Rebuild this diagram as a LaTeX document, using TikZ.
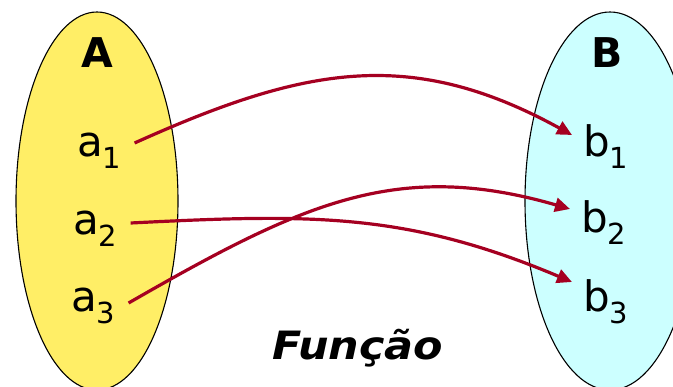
\documentclass[tikz,border=0pt]{standalone}
\usepackage{fontspec}
\setmainfont{DejaVu Sans}
\usetikzlibrary{arrows.meta}

\definecolor{setyellow}{RGB}{255,238,102}
\definecolor{setcyan}{RGB}{204,255,255}
\definecolor{maparrow}{RGB}{165,0,33}

\newcommand{\elem}[2]{#1\raisebox{-12pt}{\fontsize{29}{29}\selectfont #2}}

\begin{document}
\begin{tikzpicture}[x=1pt, y=-1pt,
  setline/.style={draw=black, line width=1.1pt},
  elemA/.style={font=\fontsize{42}{42}\selectfont, inner xsep=13pt, inner ysep=0pt, anchor=base west},
  elemB/.style={font=\fontsize{42}{42}\selectfont, inner xsep=11pt, inner ysep=0pt, anchor=base west},
  setname/.style={font=\fontsize{41}{41}\selectfont\bfseries, inner sep=0pt, anchor=base},
  maps/.style={draw=maparrow, line width=3.2pt, -{Triangle[length=15pt,width=14pt]}}]
  % picture frame
  \clip (0,0) rectangle (673,387);

  % Sets A and B
  \fill[setyellow] (97,201) ellipse [x radius=81pt, y radius=189pt];
  \draw[setline] (97,201) ellipse [x radius=81pt, y radius=189pt];
  \fill[setcyan] (610,201) ellipse [x radius=85pt, y radius=189pt];
  \draw[setline] (610,201) ellipse [x radius=85pt, y radius=189pt];

  % Set names
  \node[setname] (nameA) at (97,68) {A};
  \node[setname] (nameB) at (607,68) {B};

  % Elements of A
  \node[elemA] (a1) at (64,157) {\elem{a}{1}};
  \node[elemA] (a2) at (60,235) {\elem{a}{2}};
  \node[elemA] (a3) at (58,312) {\elem{a}{3}};

  % Elements of B
  \node[elemB] (b1) at (572,157) {\elem{b}{1}};
  \node[elemB] (b2) at (570,233) {\elem{b}{2}};
  \node[elemB] (b3) at (572,312) {\elem{b}{3}};

  % The mapping
  \draw[maps] ([yshift=14pt]a1.base east) .. controls +(169,-76) and +(-162,-89) .. ([yshift=22pt]b1.base west);
  \draw[maps] ([yshift=12pt]a2.base east) .. controls +(180,-9) and +(-166,-70) .. ([yshift=30pt]b3.base west);
  \draw[maps] ([yshift=9pt]a3.base east) .. controls +(174,-100) and +(-173,-50) .. ([yshift=24pt]b2.base west);

  % Caption
  \node[font=\fontsize{39}{39}\selectfont\bfseries\itshape, inner sep=0pt, anchor=base] (title) at (358,360) {\scalebox{1.1}[1]{Função}};
\end{tikzpicture}
\end{document}
